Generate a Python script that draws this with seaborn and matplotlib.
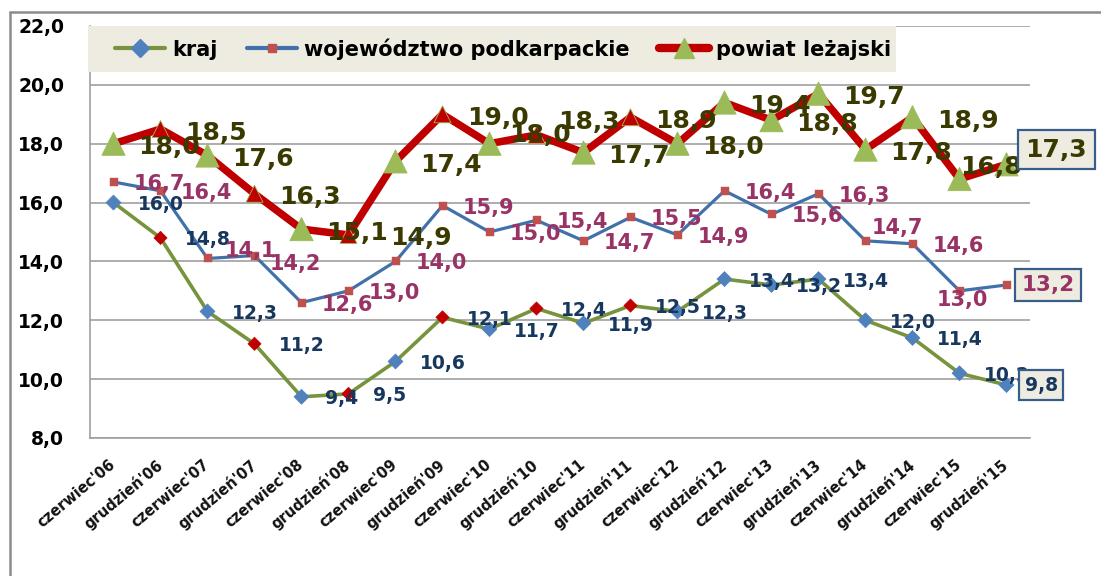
import numpy as np
import pandas as pd
import matplotlib
matplotlib.use("Agg")
import matplotlib.pyplot as plt
import seaborn as sns
from matplotlib.lines import Line2D
from matplotlib.patches import Rectangle
from matplotlib.transforms import ScaledTranslation

# ---------------- data ----------------
periods = ["czerwiec'06", "grudzień'06", "czerwiec'07", "grudzień'07", "czerwiec'08",
           "grudzień'08", "czerwiec'09", "grudzień'09", "czerwiec'10", "grudzień'10",
           "czerwiec'11", "grudzień'11", "czerwiec'12", "grudzień'12", "czerwiec'13",
           "grudzień'13", "czerwiec'14", "grudzień'14", "czerwiec'15", "grudzień'15"]
kraj = [16.0, 14.8, 12.3, 11.2, 9.4, 9.5, 10.6, 12.1, 11.7, 12.4,
        11.9, 12.5, 12.3, 13.4, 13.2, 13.4, 12.0, 11.4, 10.2, 9.8]
wojewodztwo = [16.7, 16.4, 14.1, 14.2, 12.6, 13.0, 14.0, 15.9, 15.0, 15.4,
               14.7, 15.5, 14.9, 16.4, 15.6, 16.3, 14.7, 14.6, 13.0, 13.2]
powiat = [18.0, 18.5, 17.6, 16.3, 15.1, 14.9, 17.4, 19.0, 18.0, 18.3,
          17.7, 18.9, 18.0, 19.4, 18.8, 19.7, 17.8, 18.9, 16.8, 17.3]
series_names = ["kraj", "województwo podkarpackie", "powiat leżajski"]
y_ticks = [8.0, 10.0, 12.0, 14.0, 16.0, 18.0, 20.0, 22.0]

# ---------------- style ----------------
GREEN_LINE = "#77933C"
BLUE_MARK = "#4F81BD"
RED = "#C00000"
WOJ_LINE = "#4171AB"
WOJ_MARK = "#C0504D"
POW_TRI = "#9BBB59"
LBL_KRAJ = "#17375E"
LBL_WOJ = "#993366"
LBL_POW = "#3A3A00"
BG = "#EEECE1"
BOX_EDGE = "#385D8A"
GRID = "#A0A0A0"

sns.set_style("white")
plt.rcParams["font.family"] = ["DejaVu Sans"]

W, H = 1101, 576
fig = plt.figure(figsize=(W / 100, H / 100), dpi=100)
ax = fig.add_axes([90 / W, 138 / H, 940 / W, 412 / H])

n = len(periods)
x = np.arange(n)
df = pd.DataFrame({"x": x, "kraj": kraj, "woj": wojewodztwo, "pow": powiat})

# lines
sns.lineplot(data=df, x="x", y="kraj", color=GREEN_LINE, linewidth=2.6, ax=ax, zorder=3)
sns.lineplot(data=df, x="x", y="woj", color=WOJ_LINE, linewidth=2.3, ax=ax, zorder=3.2)
sns.lineplot(data=df, x="x", y="pow", color=RED, linewidth=5.4, ax=ax, zorder=3.4,
             solid_joinstyle="miter")

# markers (some points highlighted in red as in the original)
hl = [i in (1, 3, 5, 7, 9, 11) for i in range(n)]
kraj_cols = [RED if h else BLUE_MARK for h in hl]
ax.scatter(x, df["kraj"], marker="D", s=[45 if h else 58 for h in hl], c=kraj_cols,
           edgecolors=kraj_cols, linewidths=0.5, zorder=3.1)
ax.scatter(x, df["woj"], marker="s", s=26, c=WOJ_MARK, edgecolors=WOJ_MARK,
           linewidths=0.3, zorder=3.3)
pow_cols = [RED if h else POW_TRI for h in hl]
ax.scatter(x, df["pow"], marker="^", s=[150 if h else 280 for h in hl], c=pow_cols,
           edgecolors=POW_TRI, linewidths=0.6, zorder=3.5)


def fmt(v):
    return f"{v:.1f}".replace(".", ",")


def put_labels(values, color, size, base_off, overrides, zorder):
    for i, v in enumerate(values):
        if i == n - 1:
            continue
        dx, dy = overrides.get(i, base_off)
        ax.annotate(fmt(v), (i, v), xytext=(dx, dy), textcoords="offset pixels",
                    ha="left", va="center_baseline", fontsize=size, fontweight="bold",
                    color=color, zorder=zorder)


put_labels(kraj, LBL_KRAJ, 13.5, (24, 0), {}, 6)
put_labels(wojewodztwo, LBL_WOJ, 15, (20, 0),
           {2: (17, 9), 3: (15, -6), 16: (6, 15), 18: (-23, -7)}, 6.2)
put_labels(powiat, LBL_POW, 18, (25, -1),
           {5: (42, -1), 8: (20, 11), 9: (22, 15), 18: (1, 15)}, 6.4)

# boxed labels for the last point
last = n - 1
box = dict(boxstyle="square,pad=0.3", fc=BG, ec=BOX_EDGE, lw=1.6)
ax.annotate(fmt(powiat[last]), (last, powiat[last]), xytext=(19, 17), textcoords="offset pixels",
            ha="left", va="center_baseline", fontsize=18, fontweight="bold", color=LBL_POW,
            bbox=box, zorder=8, annotation_clip=False)
ax.annotate(fmt(wojewodztwo[last]), (last, wojewodztwo[last]), xytext=(15, 2),
            textcoords="offset pixels", ha="left", va="center_baseline", fontsize=15.5,
            fontweight="bold", color=LBL_WOJ, bbox=box, zorder=8, annotation_clip=False)
ax.annotate(fmt(kraj[last]), (last, kraj[last]), xytext=(18, 2), textcoords="offset pixels",
            ha="left", va="center_baseline", fontsize=13.5, fontweight="bold", color=LBL_KRAJ,
            bbox=box, zorder=8, annotation_clip=False)

# axes
ax.set_xlim(-0.5, n - 0.5)
ax.set_ylim(y_ticks[0], y_ticks[-1])
ax.set_yticks(y_ticks)
ax.set_yticklabels([fmt(v) for v in y_ticks], fontsize=13.5, fontweight="bold", color="black")
ax.set_xticks(x)
ax.set_xticklabels(periods, rotation=40, ha="right", va="center", rotation_mode="anchor",
                   fontsize=10.5, fontweight="bold", color="#111111")
for lbl in ax.get_xticklabels():
    lbl.set_transform(lbl.get_transform() + ScaledTranslation(7 / 100, 0, fig.dpi_scale_trans))
ax.tick_params(axis="both", length=0)
ax.tick_params(axis="y", pad=18.5)
ax.tick_params(axis="x", pad=18)
ax.set_xlabel("")
ax.set_ylabel("")
ax.yaxis.grid(True, color=GRID, linewidth=1.2)
ax.xaxis.grid(False)
ax.set_axisbelow(True)
for s in ("top", "right"):
    ax.spines[s].set_visible(False)
for s in ("left", "bottom"):
    ax.spines[s].set_color(GRID)
    ax.spines[s].set_linewidth(1.2)

# legend with beige band
ax.add_patch(Rectangle((-2 / 940, 1 - 46 / 412), 808 / 940, 46 / 412, transform=ax.transAxes,
                       fc=BG, ec="none", zorder=9, clip_on=False))
handles = [
    Line2D([], [], color=GREEN_LINE, lw=3, marker="D", ms=9, mfc=BLUE_MARK, mec=BLUE_MARK,
           solid_capstyle="round"),
    Line2D([], [], color=WOJ_LINE, lw=3, marker="s", ms=6, mfc=WOJ_MARK, mec=WOJ_MARK,
           solid_capstyle="round"),
    Line2D([], [], color=RED, lw=6, marker="^", ms=14, mfc=POW_TRI, mec=POW_TRI,
           solid_capstyle="round"),
]
leg = ax.legend(handles, series_names, loc="center left", bbox_to_anchor=(25 / 940, 1 - 23 / 412),
                ncol=3, frameon=False, prop={"weight": "bold", "size": 15},
                handlelength=2.4, handletextpad=0.35, columnspacing=1.4, borderpad=0,
                borderaxespad=0, numpoints=1, labelcolor="black")
leg.set_zorder(10)

# outer chart border (top and left)
fig.add_artist(Line2D([10 / W, 10 / W], [0, 1 - 12 / H], transform=fig.transFigure,
                      color="#8C8C8C", lw=1.8))
fig.add_artist(Line2D([10 / W, 1], [1 - 12 / H, 1 - 12 / H], transform=fig.transFigure,
                      color="#8C8C8C", lw=1.8))

fig.savefig("out.png", dpi=100)
